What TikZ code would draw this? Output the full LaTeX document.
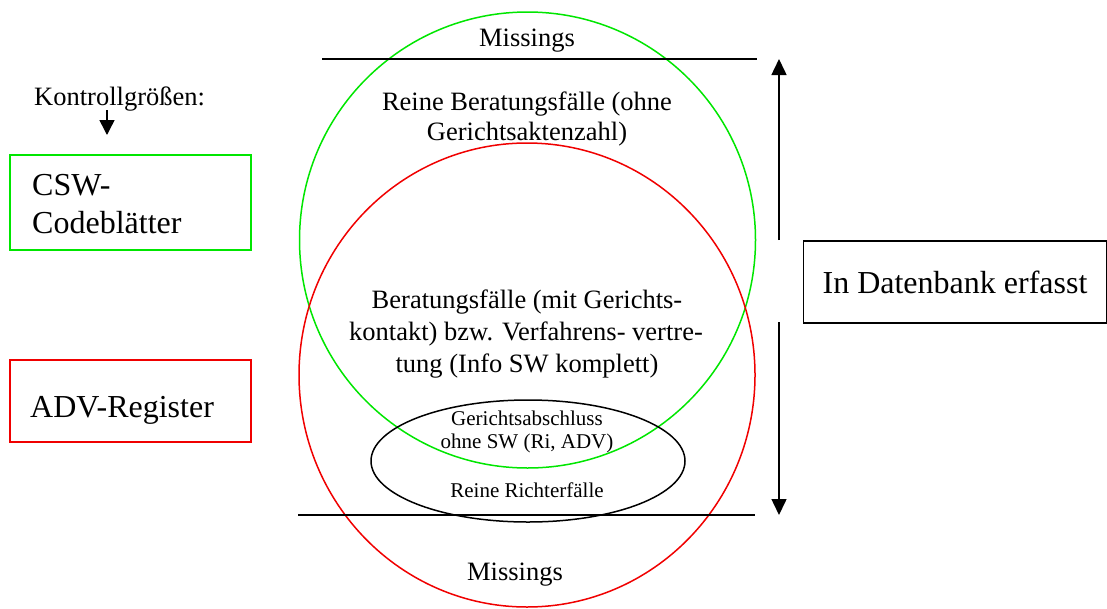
\documentclass[tikz,border=0pt]{standalone}
\usepackage{fontspec}
\setmainfont{Liberation Serif}
\usetikzlibrary{arrows.meta}
\definecolor{cgreen}{RGB}{0,230,0}
\definecolor{cred}{RGB}{240,0,0}
\begin{document}
\begin{tikzpicture}[x=1pt,y=-1pt,
  lw/.style={line width=1.5pt},
  big/.style={inner sep=0pt,anchor=base,font=\fontsize{26.5}{30}\selectfont},
  small/.style={inner sep=0pt,anchor=base,font=\fontsize{21}{24}\selectfont},
  boxtxt/.style={inner sep=0pt,anchor=base west,font=\fontsize{32}{38}\selectfont},
  arr/.style={lw,-{Triangle[length=16pt,width=15pt]}}]
\useasboundingbox (0,0) rectangle (1107,608);
% ellipses
\draw[cgreen,lw] (527.5,240) ellipse [x radius=228,y radius=228];
\draw[cred,lw] (527,375) ellipse [x radius=228,y radius=232];
\draw[black,lw] (528,461) ellipse [x radius=157,y radius=61];
% lines
\coordinate (tl1) at (322,59); \coordinate (tl2) at (757,59);
\coordinate (bl1) at (298,515); \coordinate (bl2) at (755,515);
\draw[lw] (tl1) -- (tl2);
\draw[lw] (bl1) -- (bl2);
% texts
\node[big] (m1) at (527,46) {Missings};
\node[big] (m2) at (515,580) {Missings};
\node[big] (rb1) at (527,110) {Reine Beratungsfälle (ohne};
\node[big] (rb2) at (527,140) {Gerichtsaktenzahl)};
\node[big] (bf1) at (527,308) {Beratungsfälle (mit Gerichts-};
\node[big] (bf2) at (526,340) {kontakt) bzw. Verfahrens- vertre-};
\node[big] (bf3) at (527,372) {tung (Info SW komplett)};
\node[small] (ga1) at (527,425) {Gerichtsabschluss};
\node[small] (ga2) at (527,448) {ohne SW (Ri, ADV)};
\node[small] (rr) at (527,497) {Reine Richterfälle};
% left side
\node[big,anchor=base west] (kg) at (34,105) {Kontrollgrößen:};
\coordinate (ka) at (107,110); \coordinate (kb) at (107,135);
\draw[lw,-{Triangle[length=15pt,width=15pt]}] (ka) -- (kb);
\draw[cgreen,lw] (10,155) rectangle (251,250);
\node[boxtxt] (csw1) at (32,195) {CSW-};
\node[boxtxt] (csw2) at (32,233) {Codeblätter};
\draw[cred,lw] (10,360) rectangle (251,442);
\node[boxtxt] (adv) at (30,417) {ADV-Register};
% right side
\node[draw,lw,minimum width=303pt,minimum height=82pt,inner sep=0pt,font=\fontsize{32}{36}\selectfont] (db) at (955,282) {In Datenbank erfasst};
\coordinate (a1s) at (779,240); \coordinate (a1e) at (779,59);
\coordinate (a2s) at (779,322); \coordinate (a2e) at (779,515);
\draw[arr] (a1s) -- (a1e);
\draw[arr] (a2s) -- (a2e);
\end{tikzpicture}
\end{document}
